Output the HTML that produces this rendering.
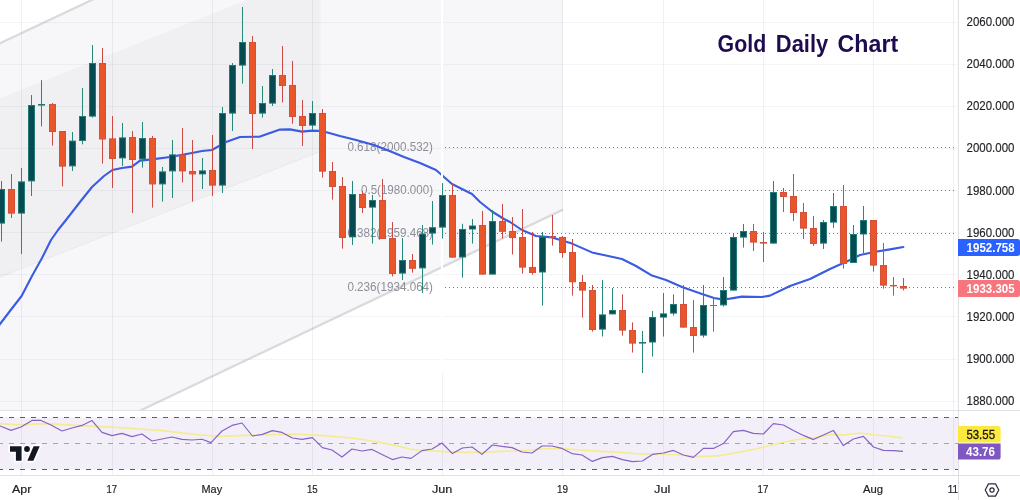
<!DOCTYPE html>
<html lang="en">
<head>
<meta charset="utf-8">
<title>Gold Daily Chart</title>
<style>
html,body{margin:0;padding:0;background:#fff;}
body{width:1020px;height:500px;overflow:hidden;font-family:'Liberation Sans', 'DejaVu Sans', sans-serif;}
svg{display:block;}
text{font-family:'Liberation Sans', 'DejaVu Sans', sans-serif;}
.ax{font-size:12px;fill:#1e1f24;stroke:#1e1f24;stroke-width:0.15px;}
.tx{font-size:11.6px;fill:#1e1f24;stroke:#1e1f24;stroke-width:0.2px;}
.fib{font-size:12px;fill:#8d8f96;}
.lblw{font-size:12px;font-weight:bold;fill:#fff;}
</style>
</head>
<body>
<svg width="1020" height="500" viewBox="0 0 1020 500">
<rect x="0" y="0" width="1020" height="500" fill="#ffffff"/>
<defs>
<clipPath id="main"><rect x="0" y="0" width="958" height="410"/></clipPath>
<clipPath id="rsi"><rect x="0" y="411" width="958" height="64"/></clipPath>
</defs>

<g clip-path="url(#main)">
<polygon points="0,43.2 91.8,0 563,0 563,209.6 141.5,410 0,410" fill="#f7f7f9"/>
<polygon points="0,97.4 245.3,0 320.5,0 320.5,151.4 0,277.0" fill="#f0f0f2"/>
<line x1="0" y1="97.4" x2="245.3" y2="0" stroke="#f8f8fa" stroke-width="1.2"/>
<line x1="0" y1="277.0" x2="320.5" y2="151.4" stroke="#e9e9ec" stroke-width="1"/>
<line x1="-5" y1="45.6" x2="94.8" y2="-1.4" stroke="#dadadd" stroke-width="2.3"/>
<line x1="120" y1="420.2" x2="563" y2="209.6" stroke="#dadadd" stroke-width="2.3"/>
</g>
<g shape-rendering="crispEdges" stroke-width="1">
<line x1="0" y1="22.5" x2="958" y2="22.5" stroke="rgba(60,65,90,0.055)"/>
<line x1="0" y1="64.5" x2="958" y2="64.5" stroke="rgba(60,65,90,0.055)"/>
<line x1="0" y1="106.5" x2="958" y2="106.5" stroke="rgba(60,65,90,0.055)"/>
<line x1="0" y1="148.5" x2="958" y2="148.5" stroke="rgba(60,65,90,0.055)"/>
<line x1="0" y1="190.5" x2="958" y2="190.5" stroke="rgba(60,65,90,0.055)"/>
<line x1="0" y1="232.5" x2="958" y2="232.5" stroke="rgba(60,65,90,0.055)"/>
<line x1="0" y1="274.5" x2="958" y2="274.5" stroke="rgba(60,65,90,0.055)"/>
<line x1="0" y1="316.5" x2="958" y2="316.5" stroke="rgba(60,65,90,0.055)"/>
<line x1="0" y1="359.5" x2="958" y2="359.5" stroke="rgba(60,65,90,0.055)"/>
<line x1="0" y1="401.5" x2="958" y2="401.5" stroke="rgba(60,65,90,0.055)"/>
<line x1="21.5" y1="0" x2="21.5" y2="475" stroke="rgba(60,65,90,0.075)"/>
<line x1="112.5" y1="0" x2="112.5" y2="475" stroke="rgba(60,65,90,0.075)"/>
<line x1="212.5" y1="0" x2="212.5" y2="475" stroke="rgba(60,65,90,0.075)"/>
<line x1="312.5" y1="0" x2="312.5" y2="475" stroke="rgba(60,65,90,0.075)"/>
<line x1="442.5" y1="373" x2="442.5" y2="475" stroke="rgba(60,65,90,0.075)"/>
<line x1="562.5" y1="0" x2="562.5" y2="475" stroke="rgba(60,65,90,0.075)"/>
<line x1="663.5" y1="0" x2="663.5" y2="475" stroke="rgba(60,65,90,0.075)"/>
<line x1="763.5" y1="0" x2="763.5" y2="475" stroke="rgba(60,65,90,0.075)"/>
<line x1="873.5" y1="0" x2="873.5" y2="475" stroke="rgba(60,65,90,0.075)"/>
<line x1="953.5" y1="0" x2="953.5" y2="475" stroke="rgba(60,65,90,0.075)"/>
</g>
<g clip-path="url(#rsi)">
<rect x="0" y="417.5" width="958" height="52" fill="#7e57c2" fill-opacity="0.095"/>
<g shape-rendering="crispEdges" stroke-width="1" stroke-dasharray="5 6" stroke-dashoffset="2">
<line x1="0" y1="417.5" x2="958" y2="417.5" stroke="#5a5d68"/>
<line x1="0" y1="443.5" x2="958" y2="443.5" stroke="#a2a4af"/>
<line x1="0" y1="469.5" x2="958" y2="469.5" stroke="#5a5d68"/>
</g>
<polyline points="-2.0,423.5 0.0,423.6 20.0,425.0 40.0,423.6 60.0,424.4 80.0,425.6 100.0,426.6 120.0,427.6 140.0,429.0 160.0,430.4 180.0,432.6 200.0,435.0 220.0,436.4 240.0,435.6 260.0,435.0 280.0,434.4 300.0,434.4 320.0,435.4 340.0,437.0 360.0,439.0 380.0,442.4 400.0,446.4 410.0,449.0 420.0,450.4 440.0,451.4 460.0,452.4 480.0,452.4 500.0,451.4 520.0,451.0 540.0,449.0 560.0,448.4 580.0,450.0 600.0,451.4 620.0,452.4 640.0,454.0 660.0,454.0 680.0,455.0 700.0,456.6 720.0,455.6 740.0,452.0 760.0,448.0 780.0,443.0 800.0,439.0 814.0,437.6 832.0,434.4 844.0,435.0 860.0,433.0 874.0,435.0 888.0,436.0 903.0,438.0" fill="none" stroke="#f4ec8e" stroke-width="1.6" stroke-linejoin="round"/>
<polyline points="-2.0,425.5 0.0,426.0 11.0,430.4 21.0,427.0 32.0,420.4 41.0,420.4 51.0,425.0 62.0,431.0 72.0,428.0 82.0,425.4 92.0,420.6 102.0,432.4 112.0,435.6 122.0,433.4 132.0,436.6 142.0,434.0 152.0,441.0 162.0,439.0 172.0,437.0 182.0,439.4 192.0,440.0 202.0,439.2 211.0,442.6 222.0,431.0 232.0,425.4 242.0,423.0 252.4,436.0 262.4,434.4 272.4,430.6 282.0,432.4 292.4,438.0 302.0,439.4 312.4,437.6 322.4,447.6 332.0,450.0 342.0,457.0 352.0,449.0 362.0,451.0 372.0,449.4 382.0,454.4 392.4,459.6 402.0,457.0 411.0,458.4 422.0,450.6 432.0,449.0 442.0,443.0 452.4,453.6 462.4,448.0 472.0,447.0 482.0,454.4 492.4,445.0 502.0,446.4 512.0,447.6 522.0,452.0 532.0,453.0 542.0,446.0 552.0,446.0 562.0,448.4 572.0,453.6 582.0,455.0 592.4,461.4 602.4,457.6 612.4,456.4 622.4,459.6 632.4,461.6 642.4,461.0 652.4,454.4 663.4,453.0 673.4,450.4 683.4,455.0 693.4,457.4 703.4,448.4 713.4,448.4 723.4,443.6 733.4,431.6 743.4,430.4 753.4,433.4 763.4,434.0 773.4,423.6 783.4,425.0 793.4,430.4 803.4,435.4 813.4,439.6 823.4,435.0 833.4,430.4 843.4,445.6 853.4,439.0 863.4,436.4 873.4,447.0 883.4,450.4 893.4,450.6 903.0,451.4" fill="none" stroke="#8462c6" stroke-width="1.15" stroke-linejoin="round"/>
</g>
<g stroke="#787b86" stroke-width="1" stroke-dasharray="1 3" shape-rendering="crispEdges">
<line x1="445" y1="147.5" x2="956" y2="147.5"/>
<line x1="445" y1="190.5" x2="956" y2="190.5"/>
<line x1="445" y1="233.5" x2="956" y2="233.5"/>
<line x1="445" y1="287.5" x2="956" y2="287.5"/>
</g>
<text class="fib" x="347.4" y="151.0" textLength="85.6" lengthAdjust="spacingAndGlyphs">0.618(2000.532)</text>
<text class="fib" x="361.0" y="194.0" textLength="72.0" lengthAdjust="spacingAndGlyphs">0.5(1980.000)</text>
<text class="fib" x="347.4" y="237.0" textLength="85.6" lengthAdjust="spacingAndGlyphs">0.382(1959.468)</text>
<text class="fib" x="347.4" y="291.0" textLength="85.6" lengthAdjust="spacingAndGlyphs">0.236(1934.064)</text>
<g clip-path="url(#main)">
<polyline points="-2.0,327.0 0.0,324.0 11.5,309.0 21.6,296.0 32.0,276.0 42.0,258.0 51.0,240.0 58.0,230.0 66.0,220.0 80.0,202.0 92.0,187.0 104.0,176.0 112.4,170.0 122.0,168.0 132.0,166.6 140.0,160.6 152.0,159.4 170.0,157.0 192.0,153.0 202.0,151.0 212.0,150.0 226.0,142.0 240.0,137.0 260.0,136.6 280.0,129.6 290.0,129.4 302.0,131.6 312.0,130.6 322.0,131.0 340.0,136.0 356.0,140.0 374.0,145.0 392.0,152.0 404.0,157.0 420.0,163.0 436.0,170.0 444.0,177.0 452.0,184.0 460.0,188.0 472.0,194.0 480.0,202.0 492.0,211.5 504.0,219.0 510.0,222.0 522.0,230.0 536.0,236.0 552.0,237.4 572.0,243.6 592.0,252.4 606.0,255.6 622.0,259.0 636.0,266.0 652.0,275.6 666.0,280.0 682.0,287.0 702.0,294.0 714.0,298.0 722.0,299.4 730.0,298.6 742.0,296.6 762.0,297.0 770.0,295.6 790.0,286.0 810.0,279.0 830.0,269.0 850.0,260.0 860.0,255.0 874.0,252.0 890.0,249.4 903.4,247.0" fill="none" stroke="#3a5be2" stroke-width="2.1" stroke-linejoin="round" stroke-linecap="round"/>
<rect x="441" y="0" width="2" height="373" fill="#ffffff"/>
<line x1="1.5" y1="181.0" x2="1.5" y2="241.6" stroke="#258a7c" stroke-width="1"/><rect x="-1.5" y="189.5" width="6" height="33.6" fill="#064a52" stroke="#217a74" stroke-width="1"/>
<line x1="11.5" y1="174.0" x2="11.5" y2="218.0" stroke="#cc4a46" stroke-width="1"/><rect x="8.5" y="189.5" width="6" height="23.6" fill="#e9562a" stroke="#d44f3c" stroke-width="1"/>
<line x1="21.5" y1="168.0" x2="21.5" y2="254.0" stroke="#258a7c" stroke-width="1"/><rect x="18.5" y="181.9" width="6" height="31.2" fill="#064a52" stroke="#217a74" stroke-width="1"/>
<line x1="31.5" y1="95.0" x2="31.5" y2="196.0" stroke="#258a7c" stroke-width="1"/><rect x="28.5" y="105.5" width="6" height="75.4" fill="#064a52" stroke="#217a74" stroke-width="1"/>
<line x1="41.5" y1="80.0" x2="41.5" y2="126.4" stroke="#258a7c" stroke-width="1"/><rect x="38.0" y="104.0" width="7" height="1.6" fill="#217a74"/>
<line x1="52.5" y1="103.0" x2="52.5" y2="145.6" stroke="#cc4a46" stroke-width="1"/><rect x="49.5" y="104.5" width="6" height="27.0" fill="#e9562a" stroke="#d44f3c" stroke-width="1"/>
<line x1="62.5" y1="131.0" x2="62.5" y2="186.4" stroke="#cc4a46" stroke-width="1"/><rect x="59.5" y="131.5" width="6" height="34.6" fill="#e9562a" stroke="#d44f3c" stroke-width="1"/>
<line x1="72.5" y1="132.0" x2="72.5" y2="171.0" stroke="#258a7c" stroke-width="1"/><rect x="69.5" y="141.1" width="6" height="24.8" fill="#064a52" stroke="#217a74" stroke-width="1"/>
<line x1="82.5" y1="88.0" x2="82.5" y2="144.4" stroke="#258a7c" stroke-width="1"/><rect x="79.5" y="116.5" width="6" height="24.0" fill="#064a52" stroke="#217a74" stroke-width="1"/>
<line x1="92.5" y1="45.0" x2="92.5" y2="117.6" stroke="#258a7c" stroke-width="1"/><rect x="89.5" y="63.5" width="6" height="52.6" fill="#064a52" stroke="#217a74" stroke-width="1"/>
<line x1="102.5" y1="48.0" x2="102.5" y2="163.6" stroke="#cc4a46" stroke-width="1"/><rect x="99.5" y="63.5" width="6" height="75.5" fill="#e9562a" stroke="#d44f3c" stroke-width="1"/>
<line x1="112.5" y1="116.0" x2="112.5" y2="188.0" stroke="#cc4a46" stroke-width="1"/><rect x="109.5" y="138.9" width="6" height="19.6" fill="#e9562a" stroke="#d44f3c" stroke-width="1"/>
<line x1="122.5" y1="123.0" x2="122.5" y2="166.0" stroke="#258a7c" stroke-width="1"/><rect x="119.5" y="137.9" width="6" height="20.0" fill="#064a52" stroke="#217a74" stroke-width="1"/>
<line x1="132.5" y1="131.0" x2="132.5" y2="213.0" stroke="#cc4a46" stroke-width="1"/><rect x="129.5" y="137.5" width="6" height="22.0" fill="#e9562a" stroke="#d44f3c" stroke-width="1"/>
<line x1="142.5" y1="122.0" x2="142.5" y2="167.6" stroke="#258a7c" stroke-width="1"/><rect x="139.5" y="138.5" width="6" height="20.4" fill="#064a52" stroke="#217a74" stroke-width="1"/>
<line x1="152.5" y1="136.0" x2="152.5" y2="207.6" stroke="#cc4a46" stroke-width="1"/><rect x="149.5" y="138.5" width="6" height="45.4" fill="#e9562a" stroke="#d44f3c" stroke-width="1"/>
<line x1="162.5" y1="167.0" x2="162.5" y2="201.6" stroke="#258a7c" stroke-width="1"/><rect x="159.5" y="171.9" width="6" height="12.0" fill="#064a52" stroke="#217a74" stroke-width="1"/>
<line x1="172.5" y1="140.0" x2="172.5" y2="198.0" stroke="#258a7c" stroke-width="1"/><rect x="169.5" y="154.9" width="6" height="16.0" fill="#064a52" stroke="#217a74" stroke-width="1"/>
<line x1="182.5" y1="128.0" x2="182.5" y2="182.4" stroke="#cc4a46" stroke-width="1"/><rect x="179.5" y="154.9" width="6" height="16.0" fill="#e9562a" stroke="#d44f3c" stroke-width="1"/>
<line x1="192.5" y1="140.0" x2="192.5" y2="201.6" stroke="#cc4a46" stroke-width="1"/><rect x="189.5" y="171.5" width="6" height="2.4" fill="#e9562a" stroke="#d44f3c" stroke-width="1"/>
<line x1="202.5" y1="158.0" x2="202.5" y2="189.0" stroke="#258a7c" stroke-width="1"/><rect x="199.5" y="170.9" width="6" height="3.0" fill="#064a52" stroke="#217a74" stroke-width="1"/>
<line x1="212.5" y1="135.0" x2="212.5" y2="196.0" stroke="#cc4a46" stroke-width="1"/><rect x="209.5" y="170.5" width="6" height="14.6" fill="#e9562a" stroke="#d44f3c" stroke-width="1"/>
<line x1="222.5" y1="107.0" x2="222.5" y2="193.0" stroke="#258a7c" stroke-width="1"/><rect x="219.5" y="113.5" width="6" height="71.6" fill="#064a52" stroke="#217a74" stroke-width="1"/>
<line x1="232.5" y1="63.0" x2="232.5" y2="131.0" stroke="#258a7c" stroke-width="1"/><rect x="229.5" y="65.5" width="6" height="47.6" fill="#064a52" stroke="#217a74" stroke-width="1"/>
<line x1="242.5" y1="7.0" x2="242.5" y2="83.6" stroke="#258a7c" stroke-width="1"/><rect x="239.5" y="42.5" width="6" height="22.6" fill="#064a52" stroke="#217a74" stroke-width="1"/>
<line x1="252.5" y1="36.0" x2="252.5" y2="149.0" stroke="#cc4a46" stroke-width="1"/><rect x="249.5" y="42.5" width="6" height="71.0" fill="#e9562a" stroke="#d44f3c" stroke-width="1"/>
<line x1="262.5" y1="86.0" x2="262.5" y2="117.6" stroke="#258a7c" stroke-width="1"/><rect x="259.5" y="103.5" width="6" height="9.6" fill="#064a52" stroke="#217a74" stroke-width="1"/>
<line x1="272.5" y1="69.0" x2="272.5" y2="106.0" stroke="#258a7c" stroke-width="1"/><rect x="269.5" y="75.5" width="6" height="27.6" fill="#064a52" stroke="#217a74" stroke-width="1"/>
<line x1="282.5" y1="46.0" x2="282.5" y2="102.4" stroke="#cc4a46" stroke-width="1"/><rect x="279.5" y="75.5" width="6" height="10.0" fill="#e9562a" stroke="#d44f3c" stroke-width="1"/>
<line x1="292.5" y1="61.0" x2="292.5" y2="123.6" stroke="#cc4a46" stroke-width="1"/><rect x="289.5" y="85.5" width="6" height="31.0" fill="#e9562a" stroke="#d44f3c" stroke-width="1"/>
<line x1="302.5" y1="100.0" x2="302.5" y2="146.0" stroke="#cc4a46" stroke-width="1"/><rect x="299.5" y="116.5" width="6" height="9.0" fill="#e9562a" stroke="#d44f3c" stroke-width="1"/>
<line x1="312.5" y1="101.0" x2="312.5" y2="130.0" stroke="#258a7c" stroke-width="1"/><rect x="309.5" y="113.5" width="6" height="11.6" fill="#064a52" stroke="#217a74" stroke-width="1"/>
<line x1="322.5" y1="109.0" x2="322.5" y2="177.6" stroke="#cc4a46" stroke-width="1"/><rect x="319.5" y="113.5" width="6" height="57.6" fill="#e9562a" stroke="#d44f3c" stroke-width="1"/>
<line x1="332.5" y1="162.0" x2="332.5" y2="199.6" stroke="#cc4a46" stroke-width="1"/><rect x="329.5" y="171.5" width="6" height="15.0" fill="#e9562a" stroke="#d44f3c" stroke-width="1"/>
<line x1="342.5" y1="177.0" x2="342.5" y2="248.6" stroke="#cc4a46" stroke-width="1"/><rect x="339.5" y="186.5" width="6" height="51.0" fill="#e9562a" stroke="#d44f3c" stroke-width="1"/>
<line x1="352.5" y1="181.0" x2="352.5" y2="245.0" stroke="#258a7c" stroke-width="1"/><rect x="349.5" y="194.5" width="6" height="42.4" fill="#064a52" stroke="#217a74" stroke-width="1"/>
<line x1="362.5" y1="191.0" x2="362.5" y2="213.0" stroke="#cc4a46" stroke-width="1"/><rect x="359.5" y="194.5" width="6" height="13.0" fill="#e9562a" stroke="#d44f3c" stroke-width="1"/>
<line x1="372.5" y1="195.0" x2="372.5" y2="243.6" stroke="#258a7c" stroke-width="1"/><rect x="369.5" y="200.5" width="6" height="6.6" fill="#064a52" stroke="#217a74" stroke-width="1"/>
<line x1="382.5" y1="179.0" x2="382.5" y2="239.0" stroke="#cc4a46" stroke-width="1"/><rect x="379.5" y="200.5" width="6" height="38.0" fill="#e9562a" stroke="#d44f3c" stroke-width="1"/>
<line x1="392.5" y1="222.0" x2="392.5" y2="276.4" stroke="#cc4a46" stroke-width="1"/><rect x="389.5" y="238.5" width="6" height="35.0" fill="#e9562a" stroke="#d44f3c" stroke-width="1"/>
<line x1="402.5" y1="238.0" x2="402.5" y2="280.0" stroke="#258a7c" stroke-width="1"/><rect x="399.5" y="260.5" width="6" height="12.6" fill="#064a52" stroke="#217a74" stroke-width="1"/>
<line x1="412.5" y1="254.0" x2="412.5" y2="272.6" stroke="#cc4a46" stroke-width="1"/><rect x="409.5" y="260.5" width="6" height="7.8" fill="#e9562a" stroke="#d44f3c" stroke-width="1"/>
<line x1="422.5" y1="225.0" x2="422.5" y2="293.0" stroke="#258a7c" stroke-width="1"/><rect x="419.5" y="234.1" width="6" height="33.8" fill="#064a52" stroke="#217a74" stroke-width="1"/>
<line x1="432.5" y1="201.0" x2="432.5" y2="244.6" stroke="#258a7c" stroke-width="1"/><rect x="429.5" y="227.7" width="6" height="5.4" fill="#064a52" stroke="#217a74" stroke-width="1"/>
<line x1="442.5" y1="183.0" x2="442.5" y2="238.5" stroke="#258a7c" stroke-width="1"/><rect x="439.5" y="195.5" width="6" height="31.6" fill="#064a52" stroke="#217a74" stroke-width="1"/>
<line x1="452.5" y1="183.0" x2="452.5" y2="257.6" stroke="#cc4a46" stroke-width="1"/><rect x="449.5" y="195.5" width="6" height="61.6" fill="#e9562a" stroke="#d44f3c" stroke-width="1"/>
<line x1="462.5" y1="223.8" x2="462.5" y2="277.6" stroke="#258a7c" stroke-width="1"/><rect x="459.5" y="229.5" width="6" height="27.5" fill="#064a52" stroke="#217a74" stroke-width="1"/>
<line x1="472.5" y1="219.0" x2="472.5" y2="243.6" stroke="#258a7c" stroke-width="1"/><rect x="469.5" y="226.0" width="6" height="3.0" fill="#064a52" stroke="#217a74" stroke-width="1"/>
<line x1="482.5" y1="211.0" x2="482.5" y2="274.6" stroke="#cc4a46" stroke-width="1"/><rect x="479.5" y="225.5" width="6" height="48.6" fill="#e9562a" stroke="#d44f3c" stroke-width="1"/>
<line x1="492.5" y1="210.0" x2="492.5" y2="274.6" stroke="#258a7c" stroke-width="1"/><rect x="489.5" y="221.5" width="6" height="52.6" fill="#064a52" stroke="#217a74" stroke-width="1"/>
<line x1="502.5" y1="204.0" x2="502.5" y2="238.6" stroke="#cc4a46" stroke-width="1"/><rect x="499.5" y="221.5" width="6" height="9.8" fill="#e9562a" stroke="#d44f3c" stroke-width="1"/>
<line x1="512.5" y1="217.0" x2="512.5" y2="254.5" stroke="#cc4a46" stroke-width="1"/><rect x="509.5" y="231.5" width="6" height="6.0" fill="#e9562a" stroke="#d44f3c" stroke-width="1"/>
<line x1="522.5" y1="209.0" x2="522.5" y2="273.6" stroke="#cc4a46" stroke-width="1"/><rect x="519.5" y="237.5" width="6" height="29.6" fill="#e9562a" stroke="#d44f3c" stroke-width="1"/>
<line x1="532.5" y1="232.0" x2="532.5" y2="274.7" stroke="#cc4a46" stroke-width="1"/><rect x="529.5" y="267.5" width="6" height="5.0" fill="#e9562a" stroke="#d44f3c" stroke-width="1"/>
<line x1="542.5" y1="232.0" x2="542.5" y2="305.6" stroke="#258a7c" stroke-width="1"/><rect x="539.5" y="237.1" width="6" height="34.9" fill="#064a52" stroke="#217a74" stroke-width="1"/>
<line x1="552.5" y1="215.0" x2="552.5" y2="245.6" stroke="#cc4a46" stroke-width="1"/><rect x="549.0" y="236.0" width="7" height="2.0" fill="#d44f3c"/>
<line x1="562.5" y1="236.0" x2="562.5" y2="257.8" stroke="#cc4a46" stroke-width="1"/><rect x="559.5" y="237.5" width="6" height="15.0" fill="#e9562a" stroke="#d44f3c" stroke-width="1"/>
<line x1="572.5" y1="239.0" x2="572.5" y2="295.6" stroke="#cc4a46" stroke-width="1"/><rect x="569.5" y="252.5" width="6" height="29.3" fill="#e9562a" stroke="#d44f3c" stroke-width="1"/>
<line x1="582.5" y1="275.0" x2="582.5" y2="317.6" stroke="#cc4a46" stroke-width="1"/><rect x="579.5" y="282.5" width="6" height="7.6" fill="#e9562a" stroke="#d44f3c" stroke-width="1"/>
<line x1="592.5" y1="285.0" x2="592.5" y2="331.6" stroke="#cc4a46" stroke-width="1"/><rect x="589.5" y="290.5" width="6" height="39.0" fill="#e9562a" stroke="#d44f3c" stroke-width="1"/>
<line x1="602.5" y1="280.0" x2="602.5" y2="336.5" stroke="#258a7c" stroke-width="1"/><rect x="599.5" y="314.9" width="6" height="14.2" fill="#064a52" stroke="#217a74" stroke-width="1"/>
<line x1="612.5" y1="288.0" x2="612.5" y2="314.4" stroke="#258a7c" stroke-width="1"/><rect x="609.5" y="310.5" width="6" height="3.4" fill="#064a52" stroke="#217a74" stroke-width="1"/>
<line x1="622.5" y1="294.4" x2="622.5" y2="335.6" stroke="#cc4a46" stroke-width="1"/><rect x="619.5" y="310.5" width="6" height="19.6" fill="#e9562a" stroke="#d44f3c" stroke-width="1"/>
<line x1="632.5" y1="322.4" x2="632.5" y2="352.6" stroke="#cc4a46" stroke-width="1"/><rect x="629.5" y="330.5" width="6" height="12.6" fill="#e9562a" stroke="#d44f3c" stroke-width="1"/>
<line x1="642.5" y1="331.0" x2="642.5" y2="373.0" stroke="#258a7c" stroke-width="1"/><rect x="639.0" y="342.0" width="7" height="1.6" fill="#217a74"/>
<line x1="652.5" y1="311.0" x2="652.5" y2="356.6" stroke="#258a7c" stroke-width="1"/><rect x="649.5" y="317.5" width="6" height="24.5" fill="#064a52" stroke="#217a74" stroke-width="1"/>
<line x1="663.5" y1="293.0" x2="663.5" y2="336.5" stroke="#258a7c" stroke-width="1"/><rect x="660.5" y="313.9" width="6" height="3.2" fill="#064a52" stroke="#217a74" stroke-width="1"/>
<line x1="673.5" y1="294.4" x2="673.5" y2="315.6" stroke="#258a7c" stroke-width="1"/><rect x="670.5" y="304.5" width="6" height="8.6" fill="#064a52" stroke="#217a74" stroke-width="1"/>
<line x1="683.5" y1="285.0" x2="683.5" y2="327.6" stroke="#cc4a46" stroke-width="1"/><rect x="680.5" y="304.5" width="6" height="22.6" fill="#e9562a" stroke="#d44f3c" stroke-width="1"/>
<line x1="693.5" y1="300.0" x2="693.5" y2="352.6" stroke="#cc4a46" stroke-width="1"/><rect x="690.5" y="327.5" width="6" height="8.0" fill="#e9562a" stroke="#d44f3c" stroke-width="1"/>
<line x1="703.5" y1="285.0" x2="703.5" y2="337.6" stroke="#258a7c" stroke-width="1"/><rect x="700.5" y="305.5" width="6" height="29.6" fill="#064a52" stroke="#217a74" stroke-width="1"/>
<line x1="713.5" y1="298.0" x2="713.5" y2="331.6" stroke="#cc4a46" stroke-width="1"/><rect x="710.0" y="305.0" width="7" height="1.0" fill="#d44f3c"/>
<line x1="723.5" y1="277.0" x2="723.5" y2="306.6" stroke="#258a7c" stroke-width="1"/><rect x="720.5" y="290.5" width="6" height="14.4" fill="#064a52" stroke="#217a74" stroke-width="1"/>
<line x1="733.5" y1="233.0" x2="733.5" y2="290.6" stroke="#258a7c" stroke-width="1"/><rect x="730.5" y="237.5" width="6" height="52.6" fill="#064a52" stroke="#217a74" stroke-width="1"/>
<line x1="743.5" y1="224.0" x2="743.5" y2="247.6" stroke="#258a7c" stroke-width="1"/><rect x="740.5" y="231.5" width="6" height="5.6" fill="#064a52" stroke="#217a74" stroke-width="1"/>
<line x1="753.5" y1="224.0" x2="753.5" y2="251.0" stroke="#cc4a46" stroke-width="1"/><rect x="750.5" y="231.5" width="6" height="10.6" fill="#e9562a" stroke="#d44f3c" stroke-width="1"/>
<line x1="763.5" y1="232.0" x2="763.5" y2="262.0" stroke="#cc4a46" stroke-width="1"/><rect x="760.0" y="242.0" width="7" height="1.6" fill="#d44f3c"/>
<line x1="773.5" y1="181.0" x2="773.5" y2="243.6" stroke="#258a7c" stroke-width="1"/><rect x="770.5" y="192.5" width="6" height="50.6" fill="#064a52" stroke="#217a74" stroke-width="1"/>
<line x1="783.5" y1="188.0" x2="783.5" y2="212.0" stroke="#cc4a46" stroke-width="1"/><rect x="780.5" y="192.5" width="6" height="4.0" fill="#e9562a" stroke="#d44f3c" stroke-width="1"/>
<line x1="793.5" y1="174.0" x2="793.5" y2="221.0" stroke="#cc4a46" stroke-width="1"/><rect x="790.5" y="196.5" width="6" height="16.0" fill="#e9562a" stroke="#d44f3c" stroke-width="1"/>
<line x1="803.5" y1="203.0" x2="803.5" y2="239.0" stroke="#cc4a46" stroke-width="1"/><rect x="800.5" y="212.5" width="6" height="15.6" fill="#e9562a" stroke="#d44f3c" stroke-width="1"/>
<line x1="813.5" y1="216.0" x2="813.5" y2="246.0" stroke="#cc4a46" stroke-width="1"/><rect x="810.5" y="228.5" width="6" height="15.0" fill="#e9562a" stroke="#d44f3c" stroke-width="1"/>
<line x1="823.5" y1="220.0" x2="823.5" y2="249.0" stroke="#258a7c" stroke-width="1"/><rect x="820.5" y="222.5" width="6" height="20.6" fill="#064a52" stroke="#217a74" stroke-width="1"/>
<line x1="833.5" y1="193.0" x2="833.5" y2="228.0" stroke="#258a7c" stroke-width="1"/><rect x="830.5" y="206.5" width="6" height="15.6" fill="#064a52" stroke="#217a74" stroke-width="1"/>
<line x1="843.5" y1="185.0" x2="843.5" y2="268.6" stroke="#cc4a46" stroke-width="1"/><rect x="840.5" y="206.5" width="6" height="57.0" fill="#e9562a" stroke="#d44f3c" stroke-width="1"/>
<line x1="853.5" y1="225.0" x2="853.5" y2="263.0" stroke="#258a7c" stroke-width="1"/><rect x="850.5" y="234.5" width="6" height="28.0" fill="#064a52" stroke="#217a74" stroke-width="1"/>
<line x1="863.5" y1="206.0" x2="863.5" y2="253.0" stroke="#258a7c" stroke-width="1"/><rect x="860.5" y="220.5" width="6" height="13.5" fill="#064a52" stroke="#217a74" stroke-width="1"/>
<line x1="873.5" y1="220.0" x2="873.5" y2="271.6" stroke="#cc4a46" stroke-width="1"/><rect x="870.5" y="220.5" width="6" height="44.6" fill="#e9562a" stroke="#d44f3c" stroke-width="1"/>
<line x1="883.5" y1="243.0" x2="883.5" y2="288.6" stroke="#cc4a46" stroke-width="1"/><rect x="880.5" y="265.5" width="6" height="19.6" fill="#e9562a" stroke="#d44f3c" stroke-width="1"/>
<line x1="893.5" y1="277.0" x2="893.5" y2="295.6" stroke="#cc4a46" stroke-width="1"/><rect x="890.0" y="285.0" width="7" height="1.4" fill="#d44f3c"/>
<line x1="903.5" y1="278.0" x2="903.5" y2="290.4" stroke="#cc4a46" stroke-width="1"/><rect x="900.5" y="286.5" width="6" height="1.6" fill="#e9562a" stroke="#d44f3c" stroke-width="1"/>
</g>
<g font-size="23.5" font-weight="bold" fill="#1f0b4f">
<text x="717.6" y="51.8" textLength="48.6" lengthAdjust="spacingAndGlyphs">Gold</text>
<text x="775.8" y="51.8" textLength="52.4" lengthAdjust="spacingAndGlyphs">Daily</text>
<text x="837.6" y="51.8" textLength="60.6" lengthAdjust="spacingAndGlyphs">Chart</text>
</g>
<g shape-rendering="crispEdges" stroke="#dfe0e6" stroke-width="1">
<line x1="0" y1="410.5" x2="1020" y2="410.5"/>
<line x1="0" y1="475.5" x2="1020" y2="475.5"/>
<line x1="958.5" y1="0" x2="958.5" y2="500"/>
</g>
<text class="ax" x="966.6" y="25.90" textLength="47.8" lengthAdjust="spacingAndGlyphs">2060.000</text>
<text class="ax" x="966.6" y="68.05" textLength="47.8" lengthAdjust="spacingAndGlyphs">2040.000</text>
<text class="ax" x="966.6" y="110.20" textLength="47.8" lengthAdjust="spacingAndGlyphs">2020.000</text>
<text class="ax" x="966.6" y="152.35" textLength="47.8" lengthAdjust="spacingAndGlyphs">2000.000</text>
<text class="ax" x="966.6" y="194.50" textLength="47.8" lengthAdjust="spacingAndGlyphs">1980.000</text>
<text class="ax" x="966.6" y="236.65" textLength="47.8" lengthAdjust="spacingAndGlyphs">1960.000</text>
<text class="ax" x="966.6" y="278.80" textLength="47.8" lengthAdjust="spacingAndGlyphs">1940.000</text>
<text class="ax" x="966.6" y="320.95" textLength="47.8" lengthAdjust="spacingAndGlyphs">1920.000</text>
<text class="ax" x="966.6" y="363.10" textLength="47.8" lengthAdjust="spacingAndGlyphs">1900.000</text>
<text class="ax" x="966.6" y="404.60" textLength="47.8" lengthAdjust="spacingAndGlyphs">1880.000</text>
<path d="M958,239 H1017.5 Q1020,239 1020,241.5 V253.5 Q1020,256 1017.5,256 H958 Z" fill="#2962ff"/>
<text class="lblw" x="966.6" y="252" textLength="48" lengthAdjust="spacingAndGlyphs">1952.758</text>
<path d="M958,280 H1017.5 Q1020,280 1020,282.5 V294.5 Q1020,297 1017.5,297 H958 Z" fill="#f7757d"/>
<text class="lblw" x="966.6" y="293" textLength="48" lengthAdjust="spacingAndGlyphs">1933.305</text>
<path d="M958,426 H998 Q1000.6,426 1000.6,428.5 V442.5 H958 Z" fill="#fce940"/>
<text x="966.4" y="438.6" font-size="12" fill="#15161a" stroke="#15161a" stroke-width="0.3" textLength="28.6" lengthAdjust="spacingAndGlyphs">53.55</text>
<path d="M958,443.5 H1000.6 V457 Q1000.6,459.6 998,459.6 H958 Z" fill="#7e57c2"/>
<text class="lblw" x="966" y="456" textLength="29" lengthAdjust="spacingAndGlyphs">43.76</text>
<text class="tx" x="12.0" y="492.6" textLength="19.4" lengthAdjust="spacingAndGlyphs">Apr</text>
<text class="tx" x="106.5" y="492.6" textLength="10.6" lengthAdjust="spacingAndGlyphs">17</text>
<text class="tx" x="201.5" y="492.6" textLength="20.6" lengthAdjust="spacingAndGlyphs">May</text>
<text class="tx" x="306.9" y="492.6" textLength="10.8" lengthAdjust="spacingAndGlyphs">15</text>
<text class="tx" x="432.0" y="492.6" textLength="20.4" lengthAdjust="spacingAndGlyphs">Jun</text>
<text class="tx" x="557.0" y="492.6" textLength="11.0" lengthAdjust="spacingAndGlyphs">19</text>
<text class="tx" x="654.0" y="492.6" textLength="16.4" lengthAdjust="spacingAndGlyphs">Jul</text>
<text class="tx" x="757.6" y="492.6" textLength="10.8" lengthAdjust="spacingAndGlyphs">17</text>
<text class="tx" x="863.0" y="492.6" textLength="20.0" lengthAdjust="spacingAndGlyphs">Aug</text>
<text class="tx" x="947.8" y="492.6" textLength="10.4" lengthAdjust="spacingAndGlyphs">11</text>
<g fill="none" stroke="#2a2e39" stroke-width="1.2" stroke-linejoin="round">
<polygon points="985.2,490 988.5,483.9 995.5,483.9 998.8,490 995.5,496.1 988.5,496.1"/>
<circle cx="992" cy="490" r="2.1"/>
</g>
<g fill="#ffffff" stroke="#ffffff" stroke-width="3.4" stroke-linejoin="round"><path d="M10,446.2 H21.6 V460.8 H15.9 V451.8 H10 Z"/><circle cx="27" cy="449" r="2.9"/><path d="M33.6,446.2 H39.7 L33.4,460.8 H27.3 Z"/></g>
<g fill="#131722"><path d="M10,446.2 H21.6 V460.8 H15.9 V451.8 H10 Z"/><circle cx="27" cy="449" r="2.9"/><path d="M33.6,446.2 H39.7 L33.4,460.8 H27.3 Z"/></g>
</svg>
</body>
</html>
